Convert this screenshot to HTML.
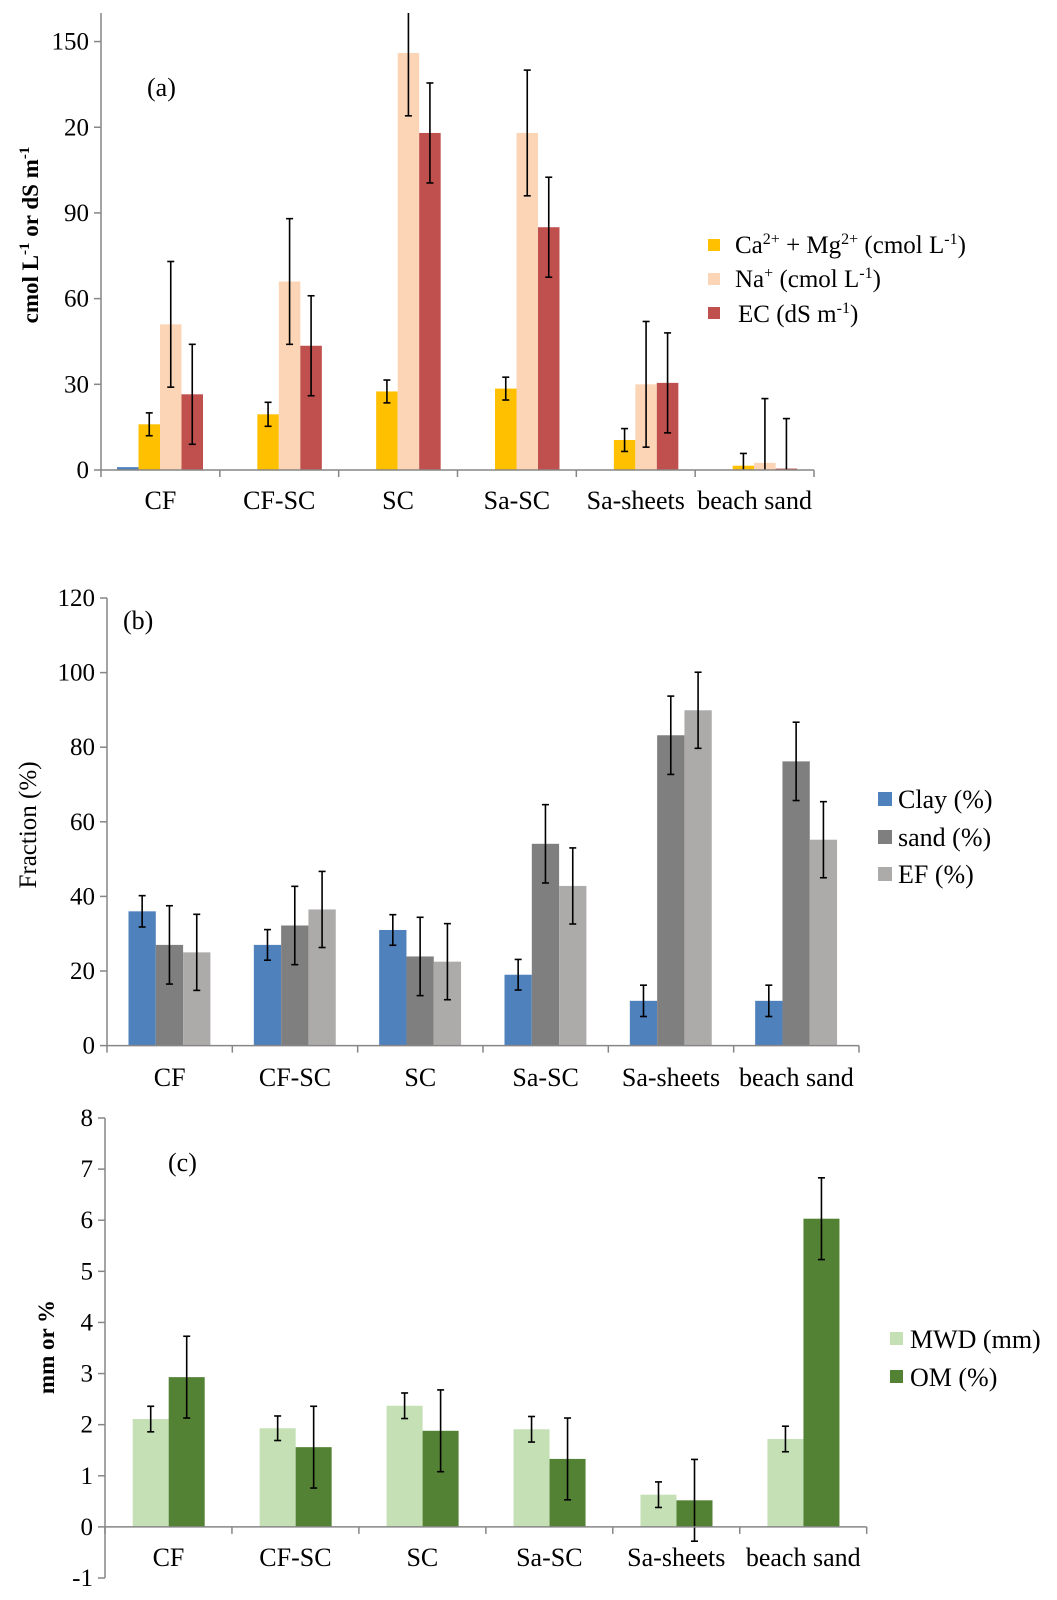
<!DOCTYPE html>
<html><head><meta charset="utf-8"><style>
html,body{margin:0;padding:0;background:#fff;}
svg{display:block;font-family:"Liberation Serif",serif;}
svg text{font-family:"Liberation Serif",serif;}
</style></head><body>
<svg id="fig" width="1057" height="1600" viewBox="0 0 1057 1600" xmlns="http://www.w3.org/2000/svg" font-family="Liberation Serif, serif"></svg>
<script>
const categories = ["CF","CF-SC","SC","Sa-SC","Sa-sheets","beach sand"];
// Chart (a)
const aBlue = [1,0,0,0,0,0];
const aCaMg = [16,19.5,27.5,28.5,10.5,1.5];
const aCaMgErr = [4,4.2,4,4,4,4.3];
const aNa = [51,66,146,118,30,2.5];
const aNaErr = [22,22,22,22,22,22.5];
const aEC = [26.5,43.5,118,85,30.5,0.5];
const aECErr = [17.5,17.5,17.5,17.5,17.5,17.5];
const aTicks = [0,30,60,90,120,150];
const aTickLabels = ["0","30","60","90","20","150"];
// Chart (b)
const bClay = [36,27,31,19,12,12];
const bClayErr = [4.2,4.1,4.1,4.1,4.2,4.2];
const bSand = [27,32.2,23.9,54.1,83.2,76.2];
const bSandErr = [10.5,10.5,10.5,10.5,10.5,10.5];
const bEF = [25,36.5,22.5,42.8,89.9,55.2];
const bEFErr = [10.2,10.2,10.2,10.2,10.2,10.2];
const bTicks = [0,20,40,60,80,100,120];
const bTickLabels = ["0","20","40","60","80","100","120"];
// Chart (c)
const cMWD = [2.11,1.93,2.37,1.91,0.63,1.72];
const cMWDErr = [0.25,0.24,0.25,0.25,0.25,0.25];
const cOM = [2.93,1.56,1.88,1.33,0.52,6.03];
const cOMErr = [0.8,0.8,0.8,0.8,0.8,0.8];
const cTicks = [-1,0,1,2,3,4,5,6,7,8];
const cTickLabels = ["-1","0","1","2","3","4","5","6","7","8"];

const NS="http://www.w3.org/2000/svg";
const svg=document.getElementById('fig');
function mk(tag,attrs,parent){const e=document.createElementNS(NS,tag);for(const k in attrs)e.setAttribute(k,attrs[k]);(parent||svg).appendChild(e);return e;}

function drawChart(cfg){
  const g=mk('g',{});
  
  
  const y=v=>cfg.y0-(v-cfg.vmin)*(cfg.y0-cfg.yTop)/(cfg.vmax-cfg.vmin);
  const cw=(cfg.xR-cfg.xL)/categories.length;
  const yb=y(0);
  cfg.series.forEach((s,si)=>{
    s.values.forEach((v,ci)=>{
      const x=cfg.xL+ci*cw+cfg.off+si*cfg.bw;
      const top=Math.min(y(v),yb),h=Math.abs(yb-y(v));
      if(h>0){const r=mk('rect',{x:x,y:top,width:cfg.bw,height:h,fill:s.color},g);
      
      }
    });
  });
  cfg.series.forEach((s,si)=>{
    if(!s.err)return;
    s.values.forEach((v,ci)=>{
      const cx=cfg.xL+ci*cw+cfg.off+si*cfg.bw+cfg.bw/2;
      const yHi=y(v+s.err[ci]),yLo=y(v-s.err[ci]);
      const y1=Math.max(yHi,cfg.yTop),y2=Math.min(yLo,cfg.y0);
      const eg=mk('g',{stroke:'#000','stroke-width':1.6},g);
      
      
      mk('line',{x1:cx,x2:cx,y1:y1,y2:y2},eg);
      if(yHi>=cfg.yTop) mk('line',{x1:cx-3.5,x2:cx+3.5,y1:y1,y2:y1},eg);
      if(yLo<=cfg.y0) mk('line',{x1:cx-3.5,x2:cx+3.5,y1:y2,y2:y2},eg);
    });
  });
  const ax=mk('g',{stroke:'#868686','stroke-width':1.5},g);
  
  
  mk('line',{x1:cfg.xL,x2:cfg.xL,y1:cfg.yTop,y2:cfg.y0},ax);
  mk('line',{x1:cfg.xL,x2:cfg.xR,y1:yb,y2:yb},ax);
  for(let i=0;i<=categories.length;i++){const x=cfg.xL+i*cw;mk('line',{x1:x,x2:x,y1:yb,y2:yb+7},ax);}
  cfg.ticks.forEach((t,i)=>{
    mk('line',{x1:cfg.xL-7,x2:cfg.xL,y1:y(t),y2:y(t)},ax);
    const tx=mk('text',{x:cfg.xL-12,y:y(t)+8,'text-anchor':'end','font-size':25,'font-family':'Liberation Serif, serif',fill:'#000'},g);
    tx.textContent=cfg.tickLabels[i];
    
    
  });
  categories.forEach((c,i)=>{
    const t=mk('text',{x:cfg.xL+(i+0.5)*cw,y:cfg.labelY,'text-anchor':'middle','font-size':26,'font-family':'Liberation Serif, serif',fill:'#000'},g);
    t.textContent=c;
    
    
  });
  return g;
}

drawChart({name:'chart-a',xL:101,xR:814,y0:470,yTop:13,vmin:0,vmax:160,off:16,bw:21.5,labelY:509,
  ticks:aTicks,tickLabels:aTickLabels,
  series:[{key:'blank',values:aBlue,color:'#4F81BD'},
          {key:'ca-mg',values:aCaMg,err:aCaMgErr,color:'#FFC000'},
          {key:'na',values:aNa,err:aNaErr,color:'#FBD5B5'},
          {key:'ec',values:aEC,err:aECErr,color:'#C0504D'}]});
drawChart({name:'chart-b',xL:107,xR:859,y0:1045.6,yTop:598,vmin:0,vmax:120,off:21.5,bw:27.3,labelY:1086,
  ticks:bTicks,tickLabels:bTickLabels,
  series:[{key:'clay',values:bClay,err:bClayErr,color:'#4F81BD'},
          {key:'sand',values:bSand,err:bSandErr,color:'#7F7F7F'},
          {key:'ef',values:bEF,err:bEFErr,color:'#ADAAAA'}]});
drawChart({name:'chart-c',xL:105,xR:866.7,y0:1578,yTop:1118,vmin:-1,vmax:8,off:27.7,bw:36,labelY:1566,
  ticks:cTicks,tickLabels:cTickLabels,
  series:[{key:'mwd',values:cMWD,err:cMWDErr,color:'#C4E0B4'},
          {key:'om',values:cOM,err:cOMErr,color:'#548235'}]});
</script>
<div style="position:absolute;left:0;top:0;width:1057px;height:1600px;pointer-events:none;">
<svg width="1057" height="1600" font-family="Liberation Serif, serif">
  <text x="147" y="96" font-size="26">(a)</text>
  <text x="123" y="629" font-size="26">(b)</text>
  <text x="168" y="1171" font-size="26">(c)</text>
  <text transform="translate(38,235) rotate(-90)" text-anchor="middle" font-size="23" font-weight="bold">cmol L<tspan font-size="15" dy="-9">-1</tspan><tspan dy="9"> or dS m</tspan><tspan font-size="15" dy="-9">-1</tspan></text>
  <text transform="translate(36,825) rotate(-90)" text-anchor="middle" font-size="25">Fraction (%)</text>
  <text transform="translate(54,1347) rotate(-90)" text-anchor="middle" font-size="23" font-weight="bold">mm or %</text>
  <g font-size="25">
    <rect x="708" y="239" width="12" height="12" fill="#FFC000"/>
    <text x="735" y="253">Ca<tspan font-size="16" dy="-9">2+</tspan><tspan dy="9"> + Mg</tspan><tspan font-size="16" dy="-9">2+</tspan><tspan dy="9"> (cmol L</tspan><tspan font-size="16" dy="-9">-1</tspan><tspan dy="9">)</tspan></text>
    <rect x="708" y="273" width="12" height="12" fill="#FBD5B5"/>
    <text x="735" y="287">Na<tspan font-size="16" dy="-9">+</tspan><tspan dy="9"> (cmol L</tspan><tspan font-size="16" dy="-9">-1</tspan><tspan dy="9">)</tspan></text>
    <rect x="708" y="307" width="12" height="12" fill="#C0504D"/>
    <text x="738" y="322">EC (dS m<tspan font-size="16" dy="-9">-1</tspan><tspan dy="9">)</tspan></text>
  </g>
  <g font-size="26">
    <rect x="878" y="792" width="14" height="14" fill="#4F81BD"/>
    <text x="898" y="808">Clay (%)</text>
    <rect x="878" y="830" width="14" height="14" fill="#7F7F7F"/>
    <text x="898" y="846">sand (%)</text>
    <rect x="878" y="867" width="14" height="14" fill="#ADAAAA"/>
    <text x="898" y="883">EF (%)</text>
  </g>
  <g font-size="26">
    <rect x="890" y="1332" width="13" height="13" fill="#C4E0B4"/>
    <text x="910" y="1348">MWD (mm)</text>
    <rect x="890" y="1370" width="13" height="13" fill="#548235"/>
    <text x="910" y="1386">OM (%)</text>
  </g>
</svg>
</div>
</body></html>
